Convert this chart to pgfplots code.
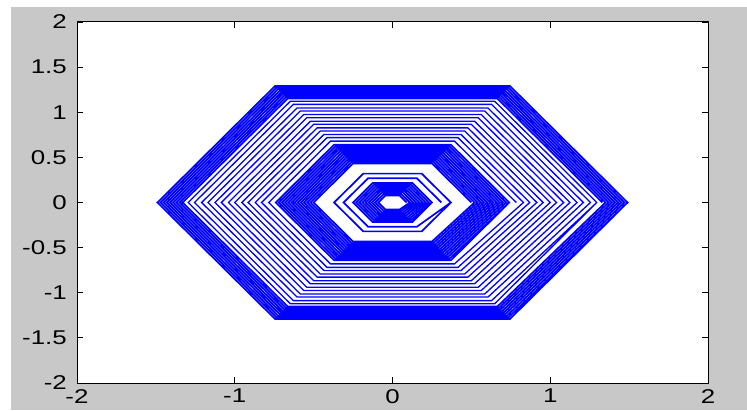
\documentclass[border=0pt]{standalone}
\usepackage{fontspec}
\setmainfont{Liberation Sans}[FakeStretch=1.3]
\usepackage{pgfplots}
\pgfplotsset{compat=1.18}
\usetikzlibrary{calc, backgrounds}
\definecolor{figgray}{RGB}{200,200,200}
\begin{document}
\begin{tikzpicture}[x=1bp,y=1bp]
\begin{axis}[
    scale only axis, width=631bp, height=361bp,
    xmin=-2, xmax=2, ymin=-2, ymax=2,
    xtick={-2,-1,0,1,2}, xticklabels={-2,-1,0,1,2},
    ytick={-2,-1.5,-1,-0.5,0,0.5,1,1.5,2},
    yticklabels={-2,-1.5,-1,-0.5,0,0.5,1,1.5,2},
    tick align=inside, xtick pos=both, ytick pos=both,
    xticklabel pos=lower, yticklabel pos=left,
    major tick length=6bp,
    axis background/.style={fill=white},
    axis line style={black, line width=1bp},
    every tick/.style={black, line width=0.8bp},
    tick label style={font=\fontsize{20}{24}\selectfont, inner sep=0pt},
    xticklabel shift=6bp, yticklabel shift=10bp,
    hexline/.style={blue, line width=1.7bp, line join=miter, mark=none},
]
\path (rel axis cs:0,0) coordinate (bl);
% core (white spot at the centre)
\addplot[hexline] coordinates {
 (0.09,0) (0.045,0.078) (-0.045,0.078) (-0.09,0) (-0.045,-0.078) (0.045,-0.078)
 (0.11,0) (0.055,0.095) (-0.055,0.095) (-0.11,0) (-0.055,-0.095) (0.055,-0.095)
 (0.13,0) (0.065,0.113) (-0.065,0.113) (-0.13,0) (-0.065,-0.113) (0.065,-0.113)
 (0.15,0) (0.075,0.130) (-0.075,0.130) (-0.15,0) (-0.075,-0.130) (0.075,-0.130)
 (0.17,0) (0.085,0.147) (-0.085,0.147) (-0.17,0) (-0.085,-0.147) (0.085,-0.147)
 (0.19,0) (0.095,0.165) (-0.095,0.165) (-0.19,0) (-0.095,-0.165) (0.095,-0.165)
 (0.21,0) (0.105,0.182) (-0.105,0.182) (-0.21,0) (-0.105,-0.182) (0.105,-0.182)
 (0.23,0) (0.115,0.199) (-0.115,0.199) (-0.23,0) (-0.115,-0.199) (0.115,-0.199)
 (0.25,0) (0.125,0.217) (-0.125,0.217) (-0.25,0) (-0.125,-0.217) (0.125,-0.217)
 (0.25,0)
};
% two thin rings
\addplot[hexline] coordinates {
 (0.31,0) (0.155,0.268) (-0.155,0.268) (-0.31,0) (-0.155,-0.268) (0.155,-0.268)
 (0.37,0) (0.185,0.320) (-0.185,0.320) (-0.37,0) (-0.185,-0.320) (0.185,-0.320)
 (0.37,0)
};
% dense band
\addplot[hexline] coordinates {
 (0.50,0) (0.25,0.433) (-0.25,0.433) (-0.50,0) (-0.25,-0.433) (0.25,-0.433)
 (0.52,0) (0.26,0.450) (-0.26,0.450) (-0.52,0) (-0.26,-0.450) (0.26,-0.450)
 (0.54,0) (0.27,0.468) (-0.27,0.468) (-0.54,0) (-0.27,-0.468) (0.27,-0.468)
 (0.56,0) (0.28,0.485) (-0.28,0.485) (-0.56,0) (-0.28,-0.485) (0.28,-0.485)
 (0.58,0) (0.29,0.502) (-0.29,0.502) (-0.58,0) (-0.29,-0.502) (0.29,-0.502)
 (0.60,0) (0.30,0.520) (-0.30,0.520) (-0.60,0) (-0.30,-0.520) (0.30,-0.520)
 (0.62,0) (0.31,0.537) (-0.31,0.537) (-0.62,0) (-0.31,-0.537) (0.31,-0.537)
 (0.64,0) (0.32,0.554) (-0.32,0.554) (-0.64,0) (-0.32,-0.554) (0.32,-0.554)
 (0.66,0) (0.33,0.572) (-0.33,0.572) (-0.66,0) (-0.33,-0.572) (0.33,-0.572)
 (0.68,0) (0.34,0.589) (-0.34,0.589) (-0.68,0) (-0.34,-0.589) (0.34,-0.589)
 (0.70,0) (0.35,0.606) (-0.35,0.606) (-0.70,0) (-0.35,-0.606) (0.35,-0.606)
 (0.72,0) (0.36,0.624) (-0.36,0.624) (-0.72,0) (-0.36,-0.624) (0.36,-0.624)
 (0.74,0) (0.37,0.641) (-0.37,0.641) (-0.74,0) (-0.37,-0.641) (0.37,-0.641)
 (0.74,0)
};
% striped band
\addplot[hexline, line width=1.3bp] coordinates {
 (0.785,0) (0.393,0.680) (-0.393,0.680) (-0.785,0) (-0.393,-0.680) (0.393,-0.680)
 (0.83,0) (0.415,0.719) (-0.415,0.719) (-0.83,0) (-0.415,-0.719) (0.415,-0.719)
 (0.87,0) (0.435,0.753) (-0.435,0.753) (-0.87,0) (-0.435,-0.753) (0.435,-0.753)
 (0.915,0) (0.458,0.792) (-0.458,0.792) (-0.915,0) (-0.458,-0.792) (0.458,-0.792)
 (0.955,0) (0.478,0.827) (-0.478,0.827) (-0.955,0) (-0.478,-0.827) (0.478,-0.827)
 (1.0,0) (0.5,0.866) (-0.5,0.866) (-1.0,0) (-0.5,-0.866) (0.5,-0.866)
 (1.04,0) (0.52,0.901) (-0.52,0.901) (-1.04,0) (-0.52,-0.901) (0.52,-0.901)
 (1.085,0) (0.543,0.940) (-0.543,0.940) (-1.085,0) (-0.543,-0.940) (0.543,-0.940)
 (1.125,0) (0.563,0.974) (-0.563,0.974) (-1.125,0) (-0.563,-0.974) (0.563,-0.974)
 (1.17,0) (0.585,1.013) (-0.585,1.013) (-1.17,0) (-0.585,-1.013) (0.585,-1.013)
 (1.21,0) (0.605,1.048) (-0.605,1.048) (-1.21,0) (-0.605,-1.048) (0.605,-1.048)
 (1.255,0) (0.628,1.087) (-0.628,1.087) (-1.255,0) (-0.628,-1.087) (0.628,-1.087)
 (1.295,0) (0.648,1.121) (-0.648,1.121) (-1.295,0) (-0.648,-1.121) (0.648,-1.121)
 (1.295,0)
};
% solid outer band
\addplot[hexline] coordinates {
 (1.33,0) (0.665,1.152) (-0.665,1.152) (-1.33,0) (-0.665,-1.152) (0.665,-1.152)
 (1.35,0) (0.675,1.169) (-0.675,1.169) (-1.35,0) (-0.675,-1.169) (0.675,-1.169)
 (1.37,0) (0.685,1.186) (-0.685,1.186) (-1.37,0) (-0.685,-1.186) (0.685,-1.186)
 (1.39,0) (0.695,1.204) (-0.695,1.204) (-1.39,0) (-0.695,-1.204) (0.695,-1.204)
 (1.41,0) (0.705,1.221) (-0.705,1.221) (-1.41,0) (-0.705,-1.221) (0.705,-1.221)
 (1.43,0) (0.715,1.238) (-0.715,1.238) (-1.43,0) (-0.715,-1.238) (0.715,-1.238)
 (1.45,0) (0.725,1.256) (-0.725,1.256) (-1.45,0) (-0.725,-1.256) (0.725,-1.256)
 (1.47,0) (0.735,1.273) (-0.735,1.273) (-1.47,0) (-0.735,-1.273) (0.735,-1.273)
 (1.49,0) (0.745,1.290) (-0.745,1.290) (-1.49,0) (-0.745,-1.290) (0.745,-1.290)
 (1.49,0)
};
\end{axis}
\begin{pgfonlayer}{background}
\fill[white] ($(bl)+(-77,-27)$) rectangle ($(bl)+(670,383)$);
\fill[figgray] ($(bl)+(-66,-27)$) rectangle ($(bl)+(670,376)$);
\end{pgfonlayer}
\pgfresetboundingbox
\useasboundingbox ($(bl)+(-77,-27)$) rectangle ($(bl)+(670,383)$);
\end{tikzpicture}
\end{document}
